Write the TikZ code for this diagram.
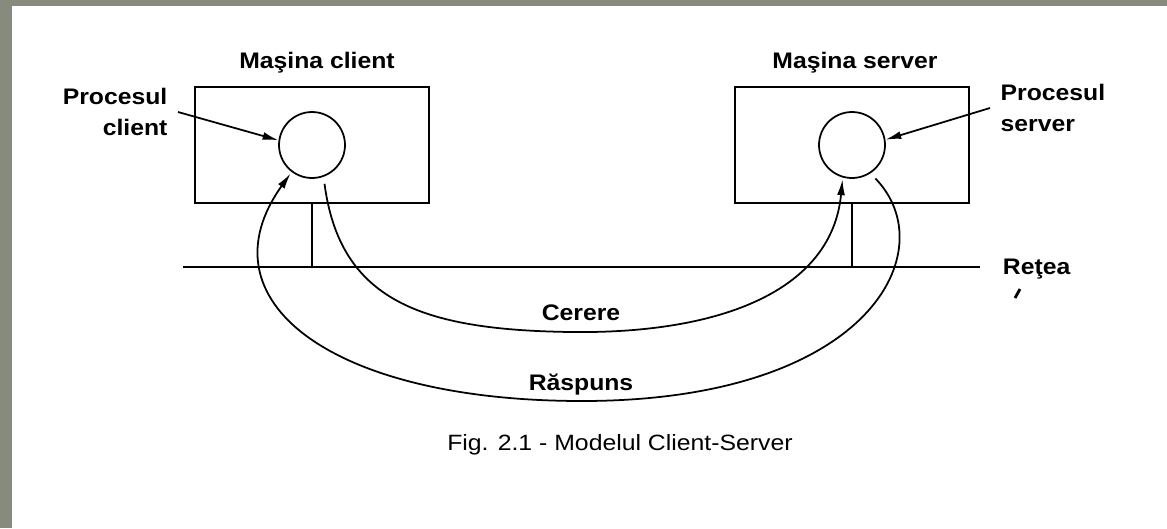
\documentclass[tikz,border=0pt]{standalone}
\usepackage{fontspec}
\setmainfont{Liberation Sans}
\usepackage{tikz}
\usetikzlibrary{positioning,calc,arrows.meta}
\definecolor{bordergray}{RGB}{134,139,126}

\begin{document}
\begin{tikzpicture}[x=0.02cm,y=-0.02cm,line width=1pt,
  machine/.style={draw,rectangle,minimum width=4.68cm,minimum height=2.32cm,inner sep=0},
  proc/.style={draw,circle,minimum size=1.32cm,inner sep=0},
  txt/.style={inner sep=0,xscale=1.1,transform shape,font=\fontsize{12.8}{17.5}\selectfont\bfseries},
  capt/.style={inner sep=0,xscale=1.12,transform shape,font=\fontsize{12.6}{17}\selectfont},
  tip/.style={-{Latex[length=9pt,width=4.5pt]}}]
\useasboundingbox (0,0) rectangle (1167,528);
\fill[bordergray] (0,0) rectangle (1167,528);
\fill[white] (12,6) rectangle (1167,528);

\node[machine] (cbox) at (312,145) {};
\node[machine] (sbox) at (852,145) {};
\node[proc] (cl) at (312,145) {};
\node[proc] (sv) at (852,145) {};
\node[txt,anchor=base] (cname) at (317,68) {Maşina client};
\node[txt,anchor=base] (sname) at (855,68) {Maşina server};
\node[txt,align=right,anchor=east,inner sep=5pt] (clbl) at (178,112) {Procesul\\client};
\node[txt,align=left,anchor=west,inner sep=5pt] (slbl) at (990,108) {Procesul\\server};

\coordinate (netL) at (183,267);
\coordinate (netR) at (980,267);
\node[txt,anchor=base west] (net) at (1002,274) {Reţea};
\draw (netL) -- (netR);
\draw (cbox.south) -- (cbox.south |- netL);
\draw (sbox.south) -- (sbox.south |- netL);
\draw[line width=1.6pt] (1015,298) -- (1020,289);

\draw[tip] (clbl.east) -- (cl.172);
\draw[tip] (slbl.west) -- (sv.9);

\draw[tip,shorten <=4pt,shorten >=1pt] (cl.-70) .. controls (340,300) and (420,330) .. (571,332)
  .. controls (722,334) and (832,290) .. (sv.-106);
\draw[tip,shorten <=4pt,shorten >=1pt] (sv.-57) .. controls (945,250) and (870,401) .. (582,401)
  .. controls (330,401) and (200,300) .. (cl.-127);
\node[txt,anchor=base] (req) at (581,320) {Cerere};
\node[txt,anchor=base] (resp) at (581,390) {Răspuns};

\node[capt,anchor=base] (fig) at (620,450) {Fig. 2.1 - Modelul Client-Server};
\end{tikzpicture}
\end{document}
